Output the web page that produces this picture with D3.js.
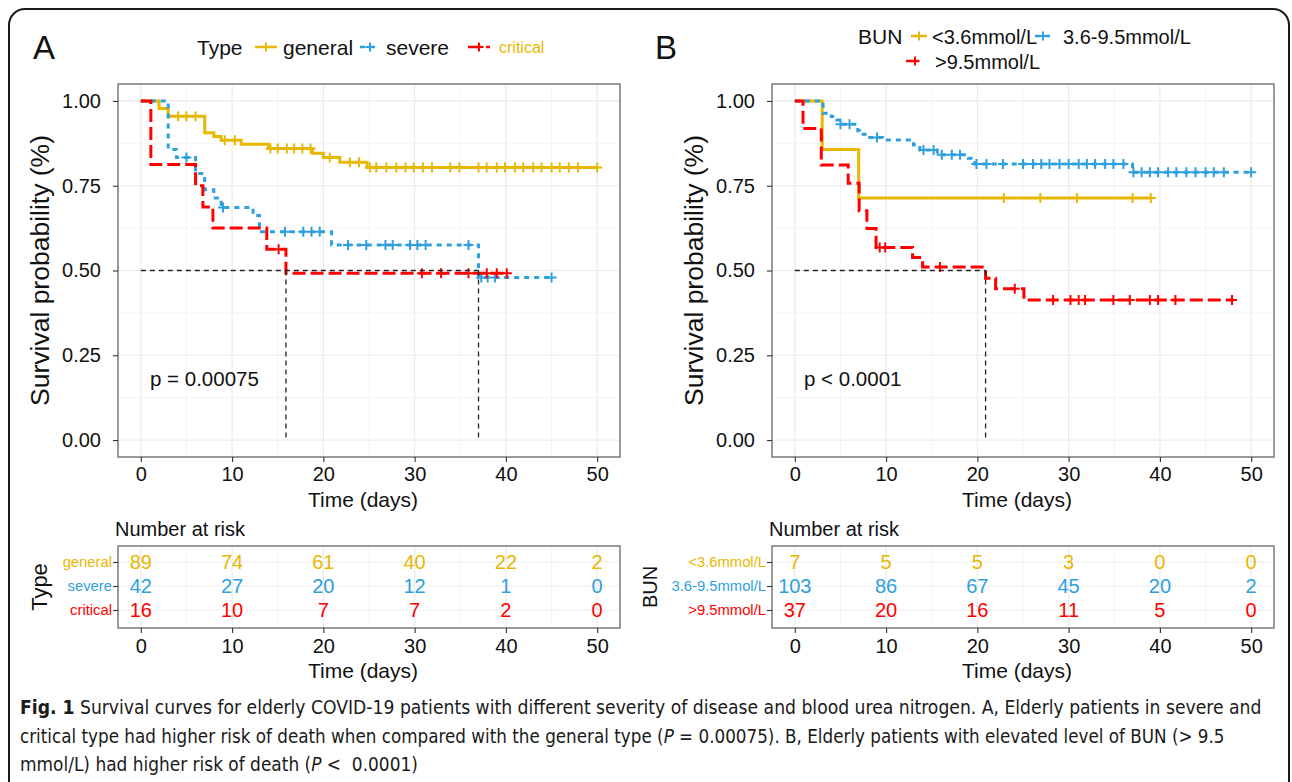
<!DOCTYPE html>
<html>
<head>
<meta charset="utf-8">
<script src="https://cdn.jsdelivr.net/npm/d3@7"></script>
<style>
  html, body { margin: 0; padding: 0; background: #fff; }
  svg { display: block; font-family: "Liberation Sans", Arial, Helvetica, sans-serif; }
</style>
</head>
<body>
<svg id="fig" width="1292" height="782"></svg>
<script>
// ─── Data ─────────────────────────────────────────────────────────────────────
const timeTicks = [0, 10, 20, 30, 40, 50];
const survTicks = [0, 0.25, 0.5, 0.75, 1];
const survLabels = ['0.00', '0.25', '0.50', '0.75', '1.00'];

// Panel A: disease type  — steps are [time, survival after the drop]
const typeNames = ['general', 'severe', 'critical'];
const generalSteps = [[0, 1], [2, 0.978], [3, 0.955], [7, 0.906], [8, 0.895], [8.8, 0.884],
  [11, 0.872], [14, 0.860], [18.8, 0.846], [20, 0.833], [21.8, 0.819], [24.8, 0.804]];
const generalEnd = 50;
const generalCensor = [4.1, 5, 6, 9.2, 10.3, 14.2, 15, 16, 16.8, 17.7, 18.6, 20.7, 22.9, 23.9,
  25.1, 25.8, 26.9, 28, 29, 29.9, 30.9, 31.9, 33.9, 34.9, 37, 37.9, 39, 39.9, 41, 41.9, 43,
  43.9, 45, 45.9, 46.9, 47.9, 50];
const severeSteps = [[0, 1], [3, 0.857], [3.9, 0.833], [6, 0.786], [7, 0.738], [8, 0.714],
  [8.8, 0.686], [12.3, 0.662], [13, 0.614], [20.9, 0.575], [37, 0.479]];
const severeEnd = 45;
const severeCensor = [5, 9, 15.8, 17.8, 18.7, 19.6, 22.7, 24.7, 26.8, 27.6, 29.5, 30.3, 31.2,
  35.9, 37.3, 38, 38.8, 45];
const criticalSteps = [[0, 1], [1.1, 0.8125], [6, 0.75], [6.8, 0.6875], [7.9, 0.625],
  [13.8, 0.5625], [15.9, 0.492]];
const criticalEnd = 40.1;
const criticalCensor = [15.1, 30.8, 32.9, 35.9, 37.9, 39, 40.1];
const typeMedians = [15.9, 37];
const typeRisk = [[89, 74, 61, 40, 22, 2], [42, 27, 20, 12, 1, 0], [16, 10, 7, 7, 2, 0]];

// Panel B: blood urea nitrogen
const bunNames = ['<3.6mmol/L', '3.6-9.5mmol/L', '>9.5mmol/L'];
const lowSteps = [[0, 1], [3, 0.857], [7, 0.714]];
const lowEnd = 39;
const lowCensor = [22.9, 26.9, 30.9, 37, 39];
const midSteps = [[0, 1], [2.9, 0.99], [3.1, 0.964], [4, 0.954], [4.6, 0.944], [4.9, 0.931],
  [6.9, 0.912], [7.1, 0.902], [7.9, 0.892], [9.6, 0.885], [13, 0.870], [13.7, 0.855],
  [15.6, 0.841], [19, 0.831], [19.7, 0.814], [37, 0.790]];
const midEnd = 50;
const midCensor = [5, 6, 9, 14.1, 15.2, 16.1, 17.2, 18.1, 19.9, 21, 22.8, 25, 26.1, 27, 27.9,
  29, 30, 31.1, 32, 32.9, 34, 34.9, 36, 37.1, 38, 38.9, 39.8, 40.9, 41.8, 42.9, 43.9, 45,
  45.9, 47, 50];
const highSteps = [[0, 1], [0.9, 0.919], [2.9, 0.811], [5.85, 0.757], [7.05, 0.676],
  [7.9, 0.624], [8.9, 0.568], [12.9, 0.538], [14, 0.510], [20.9, 0.477], [22, 0.446],
  [25.1, 0.413]];
const highEnd = 48.1;
const highCensor = [9.3, 9.9, 15.9, 24.1, 28.3, 30.2, 31.1, 31.8, 34.9, 36.7, 38.9, 39.8,
  41.7, 47.9];
const bunMedians = [20.9];
const bunRisk = [[7, 5, 5, 3, 0, 0], [103, 86, 67, 45, 20, 2], [37, 20, 16, 11, 5, 0]];

// ─── Layout / style ───────────────────────────────────────────────────────────
const COLORS = ['#E7B800', '#2E9FDF', '#FF0000'];
const DASHES = [null, '5,5', '13,5'];
const PLOT = { top: 84, bottom: 457 };
const TABLE = { top: 546, bottom: 628, row0: 562, row2: 610 };
const GRID = '#EBEBEB';

const svg = d3.select('#fig');

// outer rounded frame
svg.append('rect').attr('x', 9).attr('y', 9).attr('width', 1280).attr('height', 830)
  .attr('rx', 16).attr('fill', 'none').attr('stroke', '#1a1a1a').attr('stroke-width', 2);

function survAt(steps, t) {
  let s = 1;
  steps.forEach(([ts, v]) => { if (ts <= t) s = v; });
  return s;
}

function crossPath(cx, cy, r) {
  return `M${cx - r},${cy}H${cx + r}M${cx},${cy - r}V${cy + r}`;
}

function styleAxis(sel, size) {
  sel.select('.domain').remove();
  sel.selectAll('.tick line').attr('stroke', '#333').attr('stroke-width', 1.1);
  sel.selectAll('.tick text').attr('fill', '#111').attr('font-size', size)
    .attr('font-family', '"Liberation Sans", Arial, sans-serif');
}

function drawPanel(p) {
  const x = d3.scaleLinear().domain([-2.5, 52.5]).range([p.left, p.right]);
  const y = d3.scaleLinear().domain([-0.05, 1.05]).range([PLOT.bottom, PLOT.top]);
  const g = svg.append('g');

  // ── Grid ──────────────────────────────────────────────────────────────────
  const minorX = d3.range(5, 50, 10), minorY = d3.range(0.125, 1, 0.25);
  g.selectAll('.mx').data(minorX).enter().append('line')
    .attr('x1', d => x(d)).attr('x2', d => x(d)).attr('y1', PLOT.top).attr('y2', PLOT.bottom)
    .attr('stroke', '#F2F2F2').attr('stroke-width', 0.8);
  g.selectAll('.my').data(minorY).enter().append('line')
    .attr('y1', d => y(d)).attr('y2', d => y(d)).attr('x1', p.left).attr('x2', p.right)
    .attr('stroke', '#F2F2F2').attr('stroke-width', 0.8);
  g.selectAll('.gx').data(timeTicks).enter().append('line')
    .attr('x1', d => x(d)).attr('x2', d => x(d)).attr('y1', PLOT.top).attr('y2', PLOT.bottom)
    .attr('stroke', GRID).attr('stroke-width', 1.2);
  g.selectAll('.gy').data(survTicks).enter().append('line')
    .attr('y1', d => y(d)).attr('y2', d => y(d)).attr('x1', p.left).attr('x2', p.right)
    .attr('stroke', GRID).attr('stroke-width', 1.2);

  // ── Curves ────────────────────────────────────────────────────────────────
  const line = d3.line().x(d => x(d[0])).y(d => y(d[1])).curve(d3.curveStepAfter);
  p.series.forEach((s, i) => {
    const pts = s.steps.concat([[s.end, s.steps[s.steps.length - 1][1]]]);
    g.append('path').attr('d', line(pts)).attr('fill', 'none')
      .attr('stroke', COLORS[i]).attr('stroke-width', 3)
      .attr('stroke-dasharray', DASHES[i]);
    g.append('path')
      .attr('d', s.censor.map(t => crossPath(x(t), y(survAt(s.steps, t)), 5)).join(''))
      .attr('stroke', COLORS[i]).attr('stroke-width', 2).attr('fill', 'none');
  });

  // ── Median lines ──────────────────────────────────────────────────────────
  const medMax = d3.max(p.medians);
  g.append('line').attr('x1', x(0)).attr('x2', x(medMax)).attr('y1', y(0.5)).attr('y2', y(0.5))
    .attr('stroke', '#222').attr('stroke-width', 1.3).attr('stroke-dasharray', '5,4');
  p.medians.forEach(m => {
    g.append('line').attr('x1', x(m)).attr('x2', x(m)).attr('y1', y(0.5)).attr('y2', y(0))
      .attr('stroke', '#222').attr('stroke-width', 1.3).attr('stroke-dasharray', '5,4');
  });

  // ── Border + axes ─────────────────────────────────────────────────────────
  g.append('rect').attr('x', p.left).attr('y', PLOT.top)
    .attr('width', p.right - p.left).attr('height', PLOT.bottom - PLOT.top)
    .attr('fill', 'none').attr('stroke', '#7a7a7a').attr('stroke-width', 1.5);

  g.append('g').attr('transform', `translate(0,${PLOT.bottom})`)
    .call(d3.axisBottom(x).tickValues(timeTicks).tickSize(5).tickPadding(5))
    .call(a => styleAxis(a, 20));
  g.append('g').attr('transform', `translate(${p.left},0)`)
    .call(d3.axisLeft(y).tickValues(survTicks).tickFormat((d, i) => survLabels[i])
      .tickSize(5).tickPadding(12))
    .call(a => styleAxis(a, 20));

  g.append('text').attr('x', (p.left + p.right) / 2 - 6).attr('y', 507)
    .attr('text-anchor', 'middle').attr('font-size', 21).attr('fill', '#111').text('Time (days)');
  g.append('text').attr('transform', `translate(${p.left - 69},270.5) rotate(-90)`)
    .attr('text-anchor', 'middle').attr('font-size', 26.5).attr('fill', '#111')
    .text('Survival probability (%)');

  g.append('text').attr('x', p.left + 32).attr('y', 386).attr('font-size', 20.5)
    .attr('fill', '#111').text(p.pText);

  g.append('text').attr('x', p.letterX).attr('y', 59).attr('font-size', 33)
    .attr('fill', '#111').text(p.letter);

  // ── Risk table ────────────────────────────────────────────────────────────
  const ry = d3.scalePoint().domain(p.names).range([TABLE.row0, TABLE.row2]);
  const t = svg.append('g');
  t.append('text').attr('x', p.left - 3).attr('y', 536).attr('font-size', 20)
    .attr('fill', '#111').text('Number at risk');
  t.selectAll('.tmx').data(minorX).enter().append('line')
    .attr('x1', d => x(d)).attr('x2', d => x(d)).attr('y1', TABLE.top).attr('y2', TABLE.bottom)
    .attr('stroke', '#F2F2F2').attr('stroke-width', 0.8);
  t.selectAll('.tgx').data(timeTicks).enter().append('line')
    .attr('x1', d => x(d)).attr('x2', d => x(d)).attr('y1', TABLE.top).attr('y2', TABLE.bottom)
    .attr('stroke', GRID).attr('stroke-width', 1.2);
  t.selectAll('.tgy').data(p.names).enter().append('line')
    .attr('y1', d => ry(d)).attr('y2', d => ry(d)).attr('x1', p.left).attr('x2', p.right)
    .attr('stroke', GRID).attr('stroke-width', 1.2);

  p.risk.forEach((row, i) => {
    t.selectAll(null).data(row).enter().append('text')
      .attr('x', (d, j) => x(timeTicks[j])).attr('y', ry(p.names[i]))
      .attr('dy', '0.36em').attr('text-anchor', 'middle').attr('font-size', 20)
      .attr('fill', COLORS[i]).text(d => d);
  });

  t.append('rect').attr('x', p.left).attr('y', TABLE.top)
    .attr('width', p.right - p.left).attr('height', TABLE.bottom - TABLE.top)
    .attr('fill', 'none').attr('stroke', '#7a7a7a').attr('stroke-width', 1.5);

  t.append('g').attr('transform', `translate(0,${TABLE.bottom})`)
    .call(d3.axisBottom(x).tickValues(timeTicks).tickSize(5).tickPadding(6))
    .call(a => styleAxis(a, 20));
  t.append('g').attr('transform', `translate(${p.left},0)`)
    .call(d3.axisLeft(ry).tickSize(5).tickPadding(1))
    .call(a => styleAxis(a, 14.8))
    .call(a => a.selectAll('.tick text').attr('fill', (d, i) => COLORS[i]));

  t.append('text').attr('x', (p.left + p.right) / 2 - 6).attr('y', 678)
    .attr('text-anchor', 'middle').attr('font-size', 21).attr('fill', '#111').text('Time (days)');
  t.append('text').attr('transform', `translate(${p.tableTitleX},587) rotate(-90)`)
    .attr('text-anchor', 'middle').attr('font-size', p.tableTitleSize).attr('fill', '#111')
    .text(p.tableTitle);

  return g;
}

// legend key: short line with a censor cross in the middle
function legendKey(cx, cy, i, len) {
  svg.append('line').attr('x1', cx - len / 2).attr('x2', cx + len / 2)
    .attr('y1', cy).attr('y2', cy).attr('stroke', COLORS[i]).attr('stroke-width', 2.5)
    .attr('stroke-dasharray', DASHES[i]);
  svg.append('path').attr('d', crossPath(cx, cy, 4.5)).attr('stroke', COLORS[i])
    .attr('stroke-width', 2).attr('fill', 'none');
}

drawPanel({
  left: 118, right: 620, letter: 'A', letterX: 33, pText: 'p = 0.00075',
  names: typeNames, risk: typeRisk, medians: typeMedians,
  tableTitle: 'Type', tableTitleX: 47, tableTitleSize: 22,
  series: [
    { steps: generalSteps, end: generalEnd, censor: generalCensor },
    { steps: severeSteps, end: severeEnd, censor: severeCensor },
    { steps: criticalSteps, end: criticalEnd, censor: criticalCensor }
  ]
});
drawPanel({
  left: 772, right: 1274, letter: 'B', letterX: 655, pText: 'p < 0.0001',
  names: bunNames, risk: bunRisk, medians: bunMedians,
  tableTitle: 'BUN', tableTitleX: 657, tableTitleSize: 20,
  series: [
    { steps: lowSteps, end: lowEnd, censor: lowCensor },
    { steps: midSteps, end: midEnd, censor: midCensor },
    { steps: highSteps, end: highEnd, censor: highCensor }
  ]
});

// ── Legends ───────────────────────────────────────────────────────────────
svg.append('text').attr('x', 197).attr('y', 55).attr('font-size', 21).attr('fill', '#111').text('Type');
legendKey(266, 47, 0, 22);
svg.append('text').attr('x', 283).attr('y', 55).attr('font-size', 21).attr('fill', '#111').text(typeNames[0]);
legendKey(370, 47, 1, 20);
svg.append('text').attr('x', 386).attr('y', 55).attr('font-size', 21).attr('fill', '#111').text(typeNames[1]);
legendKey(479, 47, 2, 22);
svg.append('text').attr('x', 499).attr('y', 53).attr('font-size', 16).attr('fill', COLORS[0]).text(typeNames[2]);

svg.append('text').attr('x', 858).attr('y', 44).attr('font-size', 21).attr('fill', '#111').text('BUN');
legendKey(919, 36, 0, 16);
svg.append('text').attr('x', 932).attr('y', 44).attr('font-size', 20).attr('fill', '#111').text(bunNames[0]);
legendKey(1043, 36, 1, 16);
svg.append('text').attr('x', 1063).attr('y', 44).attr('font-size', 20).attr('fill', '#111').text(bunNames[1]);
legendKey(915, 61, 2, 18);
svg.append('text').attr('x', 935).attr('y', 69).attr('font-size', 20).attr('fill', '#111').text(bunNames[2]);

// ── Caption ───────────────────────────────────────────────────────────────
const capFont = '"Liberation Sans Narrow", "DejaVu Sans Condensed", "Roboto Condensed", "Liberation Sans", sans-serif';
const capLines = [
  { y: 714, w: 1242, parts: [['Fig. 1', 'bold'], [' Survival curves for elderly COVID-19 patients with different severity of disease and blood urea nitrogen. A, Elderly patients in severe and', '']] },
  { y: 743, w: 1205, parts: [['critical type had higher risk of death when compared with the general type (', ''], ['P', 'italic'], [' = 0.00075). B, Elderly patients with elevated level of BUN (> 9.5', '']] },
  { y: 771, w: 398, parts: [['mmol/L) had higher risk of death (', ''], ['P', 'italic'], [' <  0.0001)', '']] }
];
capLines.forEach(l => {
  const tx = svg.append('text').attr('x', 0).attr('y', 0).attr('font-size', 19.5)
    .attr('font-family', capFont).attr('fill', '#1a1a1a').attr('xml:space', 'preserve');
  l.parts.forEach(([s, st]) => {
    const sp = tx.append('tspan').text(s);
    if (st === 'bold') sp.attr('font-weight', 'bold');
    if (st === 'italic') sp.attr('font-style', 'italic');
  });
  const len = tx.node().getComputedTextLength();
  tx.attr('transform', `translate(20,${l.y}) scale(${l.w / len},1)`);
});
</script>
</body>
</html>
